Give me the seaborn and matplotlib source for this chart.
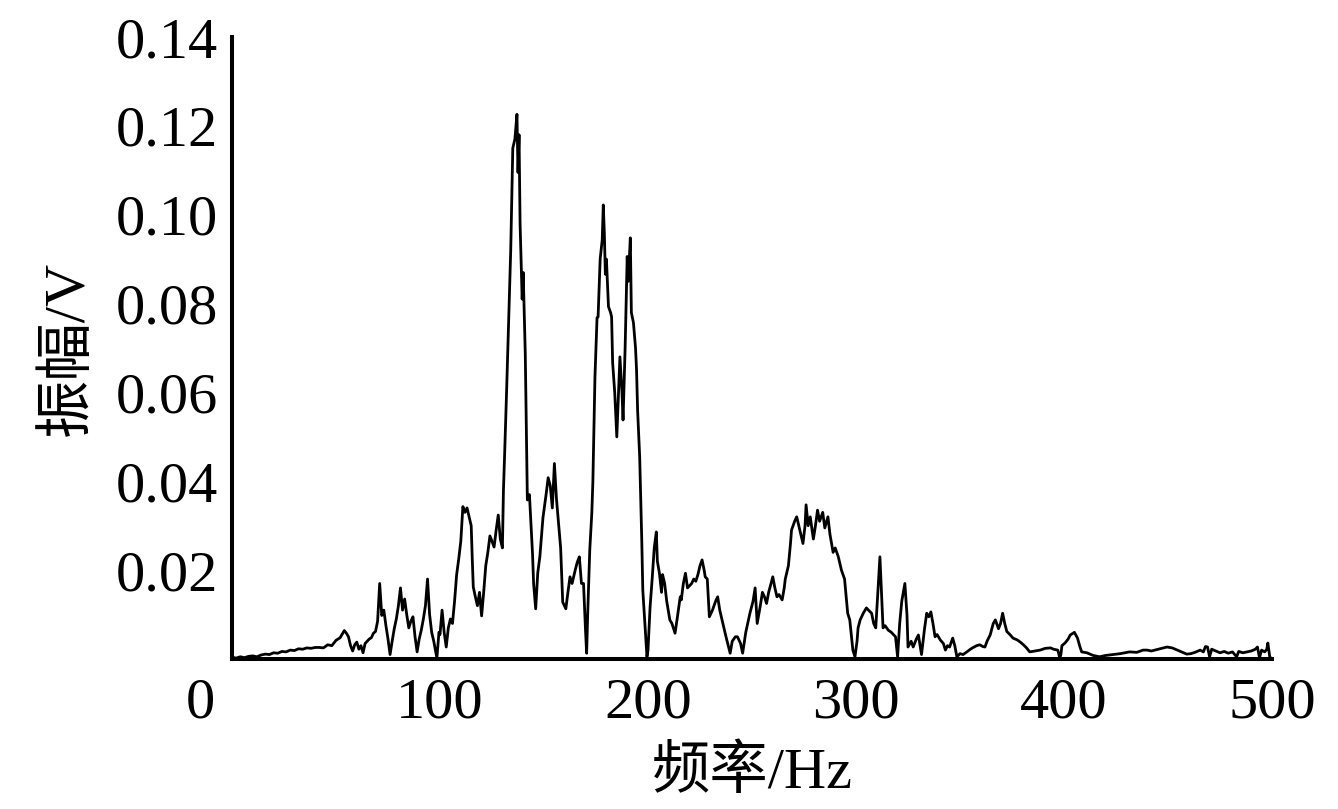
import matplotlib
matplotlib.use("Agg")
import matplotlib.pyplot as plt
import matplotlib.transforms as mtransforms
import seaborn as sns

# ---- data ----
FREQ = [0, 2, 4, 6, 8, 10, 12, 14, 16, 18, 20, 22, 24, 26, 28, 30, 32, 34, 36, 38,
        40, 42, 44, 46, 48, 50, 52, 54, 55, 56, 57, 58, 59, 60, 61, 62, 63, 64, 65, 66,
        67, 68, 69, 70, 71, 72, 73, 74, 75, 76, 77, 78, 79, 80, 81, 82, 83, 84, 85, 86,
        87, 88, 89, 90, 91, 92, 93, 94, 95, 96, 97, 98, 98.5, 99.5, 100, 101, 102, 103, 104, 105,
        106, 107, 108, 109, 110, 111, 112, 113, 114, 115, 115.5, 116, 117, 118, 119, 120, 121, 122, 123, 124,
        125, 126, 127, 128, 129, 130, 130.5, 131, 132, 133, 134, 135, 136, 137, 137.5, 138, 138.5, 139.5, 140, 141,
        142, 143, 144, 144.5, 145, 146, 147, 148, 149.5, 151, 152, 153, 154, 155, 156, 157.5, 158, 159, 160.5, 161.5,
        162.5, 163.5, 165, 166, 167, 168, 169, 170, 170.5, 171, 172, 173, 173.5, 174.5, 175.5, 176, 177, 178, 178.5, 179,
        179.5, 180, 181, 182, 182.5, 183, 184, 185, 185.5, 186.5, 187.5, 188, 189, 190, 190.5, 191.5, 192, 193, 194, 194.5,
        195, 196, 197, 197.5, 198.5, 199.5, 200, 201, 202, 203, 204, 204.5, 205.5, 206.5, 207, 208, 209, 210.5, 211.5, 213,
        214, 215.5, 216, 217, 218, 219, 220, 221, 222, 223, 224, 225, 226, 227, 227.5, 228.5, 229.5, 231, 232.5, 233.5,
        234.5, 236, 237.5, 239.5, 240.5, 242, 243, 244.5, 245.5, 247, 249, 250.5, 251.5, 252.5, 254, 255, 256, 257, 258, 260,
        261, 262, 263, 264.5, 265.5, 266, 267.5, 268.5, 269, 270.5, 271.5, 272.5, 273, 274.5, 275.5, 276, 277, 278, 279.5, 280.5,
        281.5, 282.5, 284, 285, 286.5, 287.5, 289, 290, 291.5, 293, 294.5, 296, 297, 298.5, 299.5, 300.5, 301, 302, 303.5, 305,
        306, 307.5, 308.5, 309.5, 310.5, 311.5, 312.5, 313, 314, 315.5, 317, 318, 319, 320, 321, 322, 323.5, 324.5, 325, 326.5,
        327.5, 329, 330, 331.5, 333, 334, 335, 336, 337, 338, 339, 340.5, 342, 343, 344, 345, 346.5, 347.5, 348.5, 350,
        351.5, 353, 355, 356, 358, 359.5, 361, 362, 363, 364.5, 366, 367, 368.5, 369.5, 370.5, 371.5, 372.5, 374, 375.5, 377.5,
        379, 380.5, 382, 383.5, 386, 388.5, 391, 393.5, 395, 397, 398, 398.5, 399, 400.5, 402, 403, 405, 406.5, 407.5, 408.5,
        411, 414, 417, 420, 423.5, 427, 431.5, 435, 438, 440, 442, 444.5, 447, 449.5, 452, 454.5, 457, 459, 461, 463,
        465.5, 467, 468, 469, 470, 471, 473, 475, 477, 479, 481, 483, 484, 486, 488, 490, 492, 493, 494, 495,
        496.5, 497.5, 498, 499, 500]

AMP = [0.0004, 0.0002, 0.0005, 0.0003, 0.0006, 0.0007, 0.0005, 0.0009, 0.0011, 0.0010, 0.0014, 0.0013, 0.0017, 0.0016, 0.0020, 0.0019, 0.0023, 0.0022, 0.0025, 0.0024,
       0.0026, 0.0026, 0.0025, 0.0032, 0.0030, 0.0042, 0.0048, 0.0064, 0.0058, 0.0050, 0.0030, 0.0018, 0.0032, 0.0038, 0.0022, 0.0030, 0.0014, 0.0035, 0.0040, 0.0045,
       0.0048, 0.0058, 0.0062, 0.0085, 0.0170, 0.0098, 0.0110, 0.0075, 0.0045, 0.0010, 0.0040, 0.0068, 0.0090, 0.0120, 0.0160, 0.0110, 0.0135, 0.0100, 0.0070, 0.0085,
       0.0095, 0.0050, 0.0016, 0.0045, 0.0065, 0.0090, 0.0120, 0.0180, 0.0100, 0.0060, 0.0040, 0.0015, 0.0002, 0.0060, 0.0055, 0.0110, 0.0060, 0.0027, 0.0070, 0.0090,
       0.0080, 0.0130, 0.0190, 0.0225, 0.0265, 0.0343, 0.0330, 0.0340, 0.0320, 0.0300, 0.0227, 0.0162, 0.0140, 0.0120, 0.0150, 0.0097, 0.0150, 0.0210, 0.0240, 0.0277,
       0.0265, 0.0252, 0.0290, 0.0324, 0.0270, 0.0250, 0.0380, 0.0450, 0.0600, 0.0760, 0.0920, 0.1150, 0.1170, 0.1226, 0.1095, 0.1180, 0.0980, 0.0810, 0.0870, 0.0686,
       0.0358, 0.0370, 0.0280, 0.0235, 0.0170, 0.0113, 0.0194, 0.0230, 0.0318, 0.0370, 0.0408, 0.0390, 0.0340, 0.0440, 0.0360, 0.0277, 0.0250, 0.0128, 0.0113, 0.0150,
       0.0185, 0.0170, 0.0200, 0.0218, 0.0230, 0.0170, 0.0170, 0.0060, 0.0013, 0.0100, 0.0245, 0.0330, 0.0400, 0.0635, 0.0768, 0.0770, 0.0900, 0.0944, 0.1022, 0.0960,
       0.0866, 0.0900, 0.0793, 0.0780, 0.0770, 0.0667, 0.0600, 0.0500, 0.0560, 0.0680, 0.0600, 0.0538, 0.0700, 0.0906, 0.0850, 0.0948, 0.0780, 0.0757, 0.0700, 0.0650,
       0.0560, 0.0455, 0.0268, 0.0155, 0.0080, 0.0005, 0.0020, 0.0117, 0.0180, 0.0250, 0.0286, 0.0220, 0.0193, 0.0150, 0.0190, 0.0170, 0.0130, 0.0088, 0.0080, 0.0058,
       0.0090, 0.0140, 0.0133, 0.0170, 0.0193, 0.0160, 0.0165, 0.0170, 0.0180, 0.0175, 0.0190, 0.0210, 0.0223, 0.0200, 0.0185, 0.0180, 0.0095, 0.0110, 0.0130, 0.0140,
       0.0110, 0.0080, 0.0050, 0.0013, 0.0040, 0.0050, 0.0050, 0.0035, 0.0013, 0.0060, 0.0103, 0.0130, 0.0160, 0.0080, 0.0120, 0.0150, 0.0140, 0.0125, 0.0150, 0.0185,
       0.0160, 0.0140, 0.0145, 0.0133, 0.0160, 0.0180, 0.0210, 0.0260, 0.0290, 0.0310, 0.0320, 0.0300, 0.0290, 0.0260, 0.0300, 0.0347, 0.0300, 0.0320, 0.0270, 0.0300,
       0.0335, 0.0310, 0.0330, 0.0295, 0.0320, 0.0280, 0.0240, 0.0250, 0.0230, 0.0200, 0.0180, 0.0103, 0.0088, 0.0020, 0.0005, 0.0040, 0.0070, 0.0088, 0.0103, 0.0115,
       0.0110, 0.0103, 0.0080, 0.0070, 0.0150, 0.0230, 0.0120, 0.0070, 0.0075, 0.0065, 0.0060, 0.0055, 0.0050, 0.0005, 0.0080, 0.0130, 0.0170, 0.0100, 0.0027, 0.0040,
       0.0027, 0.0045, 0.0054, 0.0010, 0.0070, 0.0103, 0.0095, 0.0106, 0.0080, 0.0050, 0.0055, 0.0043, 0.0035, 0.0020, 0.0030, 0.0027, 0.0047, 0.0030, 0.0005, 0.0012,
       0.0010, 0.0015, 0.0022, 0.0025, 0.0030, 0.0032, 0.0028, 0.0027, 0.0040, 0.0054, 0.0080, 0.0088, 0.0068, 0.0080, 0.0103, 0.0080, 0.0062, 0.0055, 0.0047, 0.0043,
       0.0038, 0.0032, 0.0025, 0.0016, 0.0018, 0.0020, 0.0024, 0.0025, 0.0022, 0.0020, 0.0002, 0.0010, 0.0030, 0.0036, 0.0045, 0.0054, 0.0060, 0.0047, 0.0030, 0.0016,
       0.0014, 0.0008, 0.0005, 0.0008, 0.0010, 0.0012, 0.0016, 0.0015, 0.0020, 0.0020, 0.0018, 0.0021, 0.0024, 0.0027, 0.0025, 0.0020, 0.0015, 0.0011, 0.0012, 0.0015,
       0.0020, 0.0016, 0.0028, 0.0027, 0.0005, 0.0022, 0.0018, 0.0014, 0.0017, 0.0013, 0.0016, 0.0005, 0.0017, 0.0014, 0.0016, 0.0018, 0.0022, 0.0027, 0.0003, 0.0020,
       0.0016, 0.0022, 0.0036, 0.0002, 0.0002]

XTICKS = [0, 100, 200, 300, 400, 500]
XTICK_LABELS = ["0", "100", "200", "300", "400", "500"]
YTICKS = [0.02, 0.04, 0.06, 0.08, 0.10, 0.12, 0.14]
YTICK_LABELS = ["0.02", "0.04", "0.06", "0.08", "0.10", "0.12", "0.14"]
XLABEL = "频率/Hz"
YLABEL = "振幅/V"

sns.set_style("white")
plt.rcParams["font.family"] = ["Liberation Serif", "Noto Sans CJK SC"]

W, H = 1338, 809
fig = plt.figure(figsize=(W / 100, H / 100), dpi=100)
ax = fig.add_axes([232 / W, 150 / H, 1040 / W, 622 / H])

sns.lineplot(x=FREQ, y=AMP, ax=ax, color="black", linewidth=2.0,
             estimator=None, sort=False)

ax.set_xlim(0, 500)
ax.set_ylim(0, 0.14)
ax.set_xticks(XTICKS)
ax.set_xticklabels(XTICK_LABELS)
ax.set_yticks(YTICKS)
ax.set_yticklabels(YTICK_LABELS)

ax.tick_params(axis="y", direction="in", length=14.4, width=2.9, pad=10,
               labelsize=42, colors="black")
ax.tick_params(axis="x", length=0, pad=13, labelsize=42, colors="black")

for s in ["top", "right"]:
    ax.spines[s].set_visible(False)
for s in ["left", "bottom"]:
    ax.spines[s].set_linewidth(2.9)
    ax.spines[s].set_color("black")

# the "0" label sits to the left of the origin in the reference
lab0 = ax.get_xticklabels()[0]
lab0.set_transform(lab0.get_transform() +
                   mtransforms.ScaledTranslation(-0.32, 0, fig.dpi_scale_trans))

ax.set_xlabel(XLABEL, fontsize=42, color="black")
ax.set_ylabel(YLABEL, fontsize=42, color="black")
ax.xaxis.set_label_coords(0.5, (659 - 745) / 622)
ax.yaxis.set_label_coords(-0.132, 0.5)

fig.savefig("out.png", dpi=100, facecolor="white")
